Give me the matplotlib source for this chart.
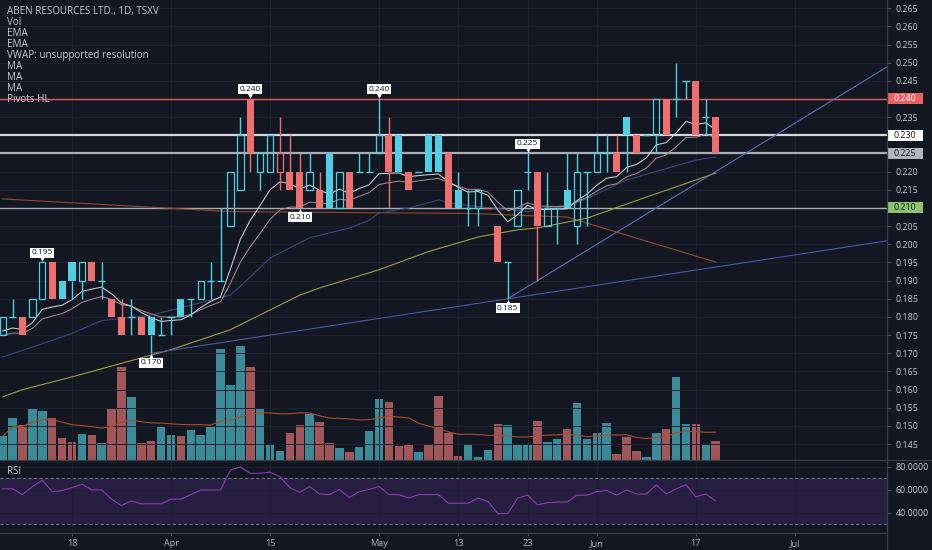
import numpy as np
import pandas as pd
import matplotlib
matplotlib.use("Agg")
import matplotlib.pyplot as plt
import matplotlib.transforms as mtransforms
from matplotlib.lines import Line2D
from matplotlib.patches import Rectangle
from matplotlib.ticker import FuncFormatter

plt.rcParams["font.family"] = ["Open Sans", "DejaVu Sans"]

# trading days on screen (TSXV 2019, Good Friday and Victoria Day closed)
dates = pd.bdate_range("2019-03-07", "2019-06-19")
dates = dates[~dates.isin(pd.to_datetime(["2019-04-19", "2019-05-20"]))]

opens = [0.175, 0.180, 0.180, 0.180, 0.185, 0.195, 0.190,
         0.195, 0.190, 0.195, 0.190, 0.185, 0.180, 0.180, 0.180, 0.180, 0.175,
         0.180, 0.185, 0.185, 0.185, 0.190, 0.190, 0.205, 0.215, 0.240, 0.220,
         0.220, 0.220, 0.220, 0.220, 0.215, 0.215, 0.225, 0.210, 0.220, 0.220,
         0.220, 0.225, 0.230, 0.230, 0.220, 0.220, 0.230, 0.230, 0.225, 0.215,
         0.210, 0.210, 0.210, 0.205, 0.195, 0.205, 0.220, 0.220, 0.205, 0.210,
         0.215, 0.205, 0.220, 0.220, 0.225, 0.225, 0.235, 0.230, 0.230, 0.230,
         0.240, 0.240, 0.245, 0.245, 0.235, 0.235]
highs = [0.180, 0.185, 0.180, 0.185, 0.195, 0.195, 0.190,
         0.195, 0.195, 0.195, 0.195, 0.185, 0.185, 0.185, 0.180, 0.180, 0.180,
         0.180, 0.185, 0.185, 0.190, 0.195, 0.210, 0.220, 0.235, 0.240, 0.225,
         0.230, 0.235, 0.230, 0.225, 0.225, 0.220, 0.225, 0.220, 0.220, 0.225,
         0.225, 0.240, 0.235, 0.230, 0.220, 0.220, 0.230, 0.230, 0.225, 0.220,
         0.215, 0.215, 0.210, 0.205, 0.195, 0.215, 0.225, 0.220, 0.220, 0.210,
         0.225, 0.225, 0.220, 0.230, 0.230, 0.230, 0.235, 0.230, 0.230, 0.240,
         0.240, 0.250, 0.245, 0.245, 0.240, 0.235]
lows = [0.175, 0.180, 0.175, 0.180, 0.185, 0.185, 0.185,
        0.185, 0.185, 0.190, 0.185, 0.180, 0.175, 0.175, 0.175, 0.170, 0.175,
        0.175, 0.180, 0.180, 0.185, 0.185, 0.190, 0.205, 0.215, 0.220, 0.215,
        0.220, 0.215, 0.215, 0.210, 0.215, 0.210, 0.210, 0.210, 0.210, 0.220,
        0.220, 0.225, 0.210, 0.220, 0.215, 0.220, 0.220, 0.220, 0.210, 0.210,
        0.205, 0.205, 0.210, 0.195, 0.185, 0.205, 0.215, 0.190, 0.205, 0.200,
        0.210, 0.200, 0.205, 0.220, 0.220, 0.220, 0.220, 0.225, 0.230, 0.225,
        0.230, 0.235, 0.240, 0.230, 0.230, 0.225]
closes = [0.180, 0.180, 0.175, 0.185, 0.195, 0.185, 0.185,
          0.190, 0.195, 0.190, 0.190, 0.180, 0.175, 0.180, 0.175, 0.175, 0.175,
          0.180, 0.180, 0.185, 0.190, 0.190, 0.190, 0.220, 0.230, 0.225, 0.225,
          0.230, 0.225, 0.215, 0.210, 0.220, 0.210, 0.210, 0.220, 0.210, 0.220,
          0.220, 0.230, 0.220, 0.220, 0.215, 0.220, 0.220, 0.220, 0.210, 0.210,
          0.210, 0.215, 0.210, 0.195, 0.195, 0.215, 0.220, 0.205, 0.210, 0.210,
          0.210, 0.220, 0.220, 0.225, 0.225, 0.220, 0.230, 0.225, 0.230, 0.240,
          0.230, 0.240, 0.245, 0.230, 0.235, 0.225]
volume_k = [24, 42, 35, 51, 49, 42, 22,
            18, 26, 25, 17, 51, 93, 63, 17, 19, 33,
            25, 24, 30, 25, 34, 111, 75, 114, 93, 51,
            15, 9, 27, 35, 46, 38, 17, 12, 8, 13,
            29, 61, 58, 14, 15, 8, 15, 64, 27, 4,
            16, 3, 10, 36, 35, 16, 16, 39, 18, 21,
            31, 57, 21, 27, 37, 6, 23, 9, 3, 27,
            31, 83, 36, 36, 16, 19]
rsi = [61, 61, 56, 63, 68.5, 58.5, 59.5,
       62, 65, 60, 60, 52, 46.5, 50.5, 48, 48, 48,
       52, 52, 56, 60, 60, 60, 77.5, 80, 74.5, 74.5,
       75.5, 71.5, 62, 58, 63, 56.5, 56, 60.5, 53.5, 58.5,
       60.5, 63, 56, 56, 53, 56, 56, 56, 48.5, 48.5,
       48.5, 53, 50, 39.5, 39.5, 53, 55.5, 47, 49, 49.5,
       49.5, 55.5, 55.5, 58.5, 59.5, 55.5, 60, 56.5, 56.5, 64.5,
       56.5, 61, 64.5, 54, 56.5, 50.5]

# slower averages (bar number, value)
ma_blue_bars = [0, 3, 7, 10, 15, 23, 25, 27, 29, 31, 35, 37, 38, 41, 44, 46, 53, 58, 63, 70, 72]
ma_blue_vals = [0.169, 0.1717, 0.1755, 0.179, 0.1805, 0.186, 0.191, 0.1962, 0.199, 0.2018,
                0.2045, 0.2066, 0.2086, 0.210, 0.2122, 0.211, 0.209, 0.2114, 0.2177, 0.2232, 0.224]
ma_yellow_bars = [0, 2, 7, 13, 17, 23, 30, 32, 38, 43, 48, 52, 54, 59, 65, 70, 72]
ma_yellow_vals = [0.158, 0.160, 0.1635, 0.168, 0.171, 0.1765, 0.186, 0.188, 0.193, 0.198,
                  0.202, 0.204, 0.2045, 0.2072, 0.213, 0.2177, 0.2196]
ma_orange_bars = [0, 23, 47, 57, 72]
ma_orange_vals = [0.2125, 0.209, 0.2085, 0.2075, 0.1951]

pivot_high_bars = [4, 25, 38, 53]
pivot_low_bars = [15, 30, 51]
trend_pairs = [(15, 51), (51, 54)]

levels = [0.240, 0.230, 0.225, 0.210]
level_line_cols = ["#e25c5c", "#d6d8dd", "#a9acb4", "#a9acb4"]
level_box_cols = ["#ef5f5f", "#ffffff", "#b2b5be", "#8cc36b"]
level_txt_cols = ["#ffffff", "#131722", "#131722", "#131722"]

tick_days = ["2019-03-18", "2019-04-01", "2019-04-15", "2019-05-01", "2019-05-13",
             "2019-05-23", "2019-06-03", "2019-06-17", "2019-07-01"]
tick_names = ["18", "Apr", "15", "May", "13", "23", "Jun", "17", "Jul"]

legend_lines = ["ABEN RESOURCES LTD., 1D, TSXV", "Vol", "EMA", "EMA",
                "VWAP: unsupported resolution", "MA", "MA", "MA", "Pivots HL"]

# ---- colours ----
bg = "#131722"
grid = "#1d2130"
txt = "#c7cad1"
up = "#4fd0e2"
down = "#ef6f6f"
vol_up = "#3a8b97"
vol_down = "#a1575a"


def ema(values, span, seed):
    alpha = 2.0 / (span + 1)
    out, prev = [], seed
    for v in values:
        prev = prev + alpha * (v - prev)
        out.append(prev)
    return np.array(out)


o = np.array(opens); h = np.array(highs); l = np.array(lows); c = np.array(closes)
x = np.arange(len(c))
prev_c = np.r_[o[0], c[:-1]]
col = np.where(c >= prev_c - 1e-9, up, down)
doji = np.isclose(o, c)
filled = (c < o) & ~doji
hollow = (c > o) & ~doji

all_days = dates.append(pd.bdate_range("2019-06-20", "2019-07-05"))
tick_pos = [all_days.get_loc(pd.Timestamp(d)) for d in tick_days]

W, H = 932, 550
fig = plt.figure(figsize=(W / 100, H / 100), dpi=100, facecolor=bg)
ax = fig.add_axes([0, (H - 460) / H, 887 / W, 460 / H])
axv = ax.twinx()
ax_rsi = fig.add_axes([0, (H - 533) / H, 887 / W, 72 / H])

ax.set_zorder(axv.get_zorder() + 1)
ax.patch.set_visible(False)
axv.set_facecolor(bg)
ax_rsi.set_facecolor(bg)

xlim = (-0.27, 89.3)
ylim = (0.14063, 0.26725)
for a in (ax, axv, ax_rsi):
    a.set_xlim(*xlim)
    for s in a.spines.values():
        s.set_visible(False)
ax.set_ylim(*ylim)
axv.set_ylim(0, 460)
ax_rsi.set_ylim(22.6, 85.2)

# grid (under volume)
price_ticks = np.round(np.arange(0.145, 0.2651, 0.005), 3)
gtr = mtransforms.blended_transform_factory(axv.transAxes, ax.transData)
axv.hlines(price_ticks, 0, 1, transform=gtr, colors=grid, lw=0.7)
for p in tick_pos:
    axv.axvline(p, color=grid, lw=0.7)
    ax_rsi.axvline(p, color=grid, lw=0.7)
for v in (80, 60, 40):
    ax_rsi.axhline(v, color=grid, lw=0.7)

# volume
axv.bar(x, volume_k, width=0.86, color=np.where(c >= o, vol_up, vol_down), lw=0)
vol_ma = pd.Series(volume_k).rolling(20, min_periods=1).mean()
axv.plot(x, vol_ma, color="#a94e2b", lw=0.8)
axv.set_yticks([])
axv.tick_params(axis="both", length=0, labelright=False)

# horizontal levels
for lv, lc in zip(levels, level_line_cols):
    ax.axhline(lv, color=lc, lw=1.6 if lv in (0.230, 0.225) else 1.0, zorder=2)

# moving averages and trend lines
ax.plot(np.interp(x, ma_orange_bars, ma_orange_vals), color="#93492a", lw=0.8, zorder=3)
ax.plot(np.interp(x, ma_yellow_bars, ma_yellow_vals), color="#a19c3f", lw=0.8, zorder=3)
ax.plot(np.interp(x, ma_blue_bars, ma_blue_vals), color="#3a4877", lw=0.8, zorder=3)
ax.plot(x, ema(c, 13, 0.174), color="#ab8590", lw=0.75, zorder=3)
ax.plot(x, ema(c, 8, 0.175), color="#cfd1d6", lw=0.75, zorder=3)
for i0, i1 in trend_pairs:
    slope = (l[i1] - l[i0]) / (i1 - i0)
    ax.plot([i0, xlim[1]], [l[i0], l[i0] + slope * (xlim[1] - i0)],
            color="#4658a8" if i1 - i0 > 10 else "#5d6fb5", lw=0.8, zorder=3)

# candles (hollow style)
w = 0.72
body_lo = np.minimum(o, c)
body_hi = np.maximum(o, c)
ax.vlines(x, body_hi, h, colors=col, lw=1.0, zorder=4)
ax.vlines(x, l, body_lo, colors=col, lw=1.0, zorder=4)
ax.bar(x[filled], (o - c)[filled], bottom=c[filled], width=w, color=col[filled], lw=0, zorder=5)
ax.bar(x[hollow], (c - o)[hollow], bottom=o[hollow], width=w - 0.08, facecolor="none",
       edgecolor=col[hollow], lw=0.9, zorder=5)
ax.hlines(c[doji], x[doji] - w / 2, x[doji] + w / 2, colors=col[doji], lw=1.0, zorder=5)

# pivot labels
box = dict(boxstyle="square,pad=0.18", fc="white", ec="none")
up_tr = mtransforms.offset_copy(ax.transData, fig=fig, y=3, units="dots")
dn_tr = mtransforms.offset_copy(ax.transData, fig=fig, y=-3, units="dots")
for b in pivot_high_bars:
    ax.annotate(f"{h[b]:.3f}", (b, h[b]), xytext=(0, 6), textcoords="offset pixels",
                ha="center", va="bottom", fontsize=6, color="#131722", bbox=box, zorder=7)
    ax.plot(b, h[b], marker="v", ms=3.5, color="white", mew=0, transform=up_tr, zorder=7)
for b in pivot_low_bars:
    ax.annotate(f"{l[b]:.3f}", (b, l[b]), xytext=(0, -6), textcoords="offset pixels",
                ha="center", va="top", fontsize=6, color="#131722", bbox=box, zorder=7)
    ax.plot(b, l[b], marker="^", ms=3.5, color="white", mew=0, transform=dn_tr, zorder=7)

# right price scale
ax.yaxis.tick_right()
ax.set_yticks(price_ticks)
ax.yaxis.set_major_formatter(FuncFormatter(
    lambda v, _: "" if any(abs(v - lv) < 1e-6 for lv in levels) else f"{v:.3f}"))
ax.tick_params(axis="y", colors="#4a4e5a", labelcolor=txt, length=3, width=0.8,
               labelsize=6.4, pad=3)
ax.tick_params(axis="x", bottom=False, labelbottom=False)

btr = mtransforms.blended_transform_factory(ax.transAxes, ax.transData)
half = (ylim[1] - ylim[0]) * 5.5 / 460
for lv, bc, tc in zip(levels, level_box_cols, level_txt_cols):
    ax.add_patch(Rectangle((1.0, lv - half), 36 / 887, 2 * half, transform=btr,
                           facecolor=bc, edgecolor="none", clip_on=False, zorder=8))
    ax.text(1.0 + 6.5 / 887, lv, f"{lv:.3f}", transform=btr, ha="left", va="center",
            fontsize=6.4, color=tc, clip_on=False, zorder=9)

# RSI pane
ax_rsi.axhspan(30, 70, color="#6b3fb0", alpha=0.22, lw=0)
ax_rsi.axhline(70, color="#6f6a88", lw=0.8, ls=(0, (3, 2)))
ax_rsi.axhline(30, color="#6f6a88", lw=0.8, ls=(0, (3, 2)))
ax_rsi.plot(x, rsi, color="#8e3bb3", lw=0.8)
ax_rsi.yaxis.tick_right()
ax_rsi.set_yticks([80, 60, 40], ["80.0000", "60.0000", "40.0000"])
ax_rsi.tick_params(axis="y", colors="#4a4e5a", labelcolor=txt, length=3, width=0.8,
                   labelsize=6.4, pad=3)
ax_rsi.set_xticks(tick_pos, tick_names)
ax_rsi.tick_params(axis="x", colors="#4a4e5a", labelcolor="#b2b5be", length=2.5,
                   width=0.8, labelsize=6.6, pad=2)
fig.text(7 / W, 1 - 471 / H, "RSI", fontsize=7, color=txt, va="center")

# pane separators
for (x0, y0, x1, y1) in [(0, 460, W, 460), (0, 533, 887, 533), (887, 0, 887, H)]:
    fig.add_artist(Line2D([x0 / W, x1 / W], [1 - y0 / H, 1 - y1 / H],
                          transform=fig.transFigure, color="#3a3e4a", lw=0.9))

# legend block
for k, s in enumerate(legend_lines):
    fig.text(7 / W, 1 - (11.5 + 11 * k) / H, s, fontsize=7.1, color=txt, va="center")

fig.savefig("out.png", dpi=100, facecolor=bg)
